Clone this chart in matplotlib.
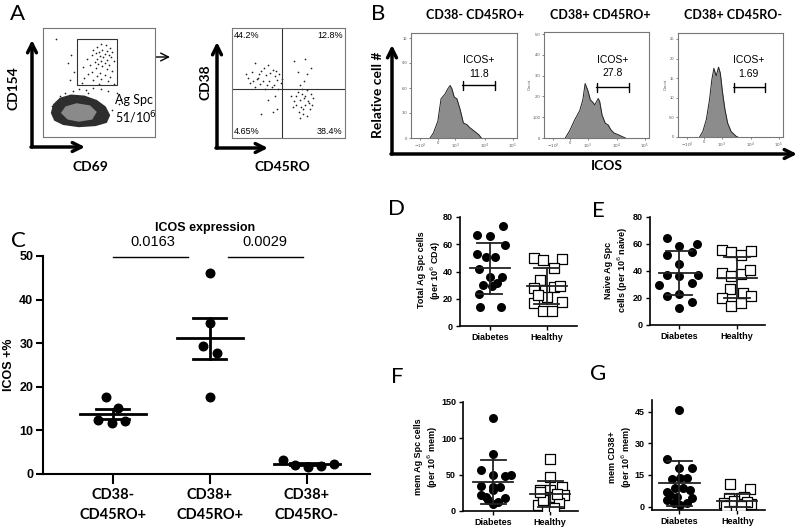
#import libraries
import matplotlib
matplotlib.use("Agg")
import matplotlib.pyplot as plt
import numpy as np
from matplotlib.patches import Polygon, Rectangle

plt.rcParams["font.family"] = ["Liberation Sans", "DejaVu Sans"]

#GLOBAL sizes (pixels of the 800x529 picture)
W, H = 800, 529

#--- panel A: CD69 vs CD154 dot plot (0-100 display units)
a_dots_x = [52, 56, 48, 60, 45, 53, 57, 50, 62, 47, 55, 59, 44, 51, 54, 61, 39, 48, 57, 52, 63, 46,
            55, 49, 59, 42, 53, 36, 47, 57, 62, 44, 51, 40, 55, 48, 60, 37, 52, 45, 58, 35, 63, 50,
            12, 25, 22, 28, 24, 32, 20, 27, 38, 45, 15, 30, 52, 58, 66, 70, 40, 8, 62, 68, 72]
a_dots_y = [85, 84, 83, 82, 80, 80, 79, 78, 78, 77, 76, 75, 75, 74, 73, 73, 72, 72, 71, 70, 70, 69,
            68, 67, 66, 66, 65, 64, 63, 62, 61, 60, 59, 58, 57, 56, 55, 54, 53, 52, 51, 50, 49, 49,
            90, 75, 68, 60, 52, 44, 40, 42, 43, 45, 38, 38, 44, 42, 40, 35, 40, 28, 25, 30, 20]
a_blob_x = [7, 9, 15, 25, 37, 48, 56, 60, 57, 47, 32, 18, 10]
a_blob_y = [22, 30, 36, 39, 38, 34, 28, 20, 13, 10, 9, 11, 15]
a_core_x = [16, 20, 30, 42, 48, 44, 32, 22]
a_core_y = [22, 28, 31, 29, 23, 16, 14, 16]
a_gate = [30, 48, 66, 90]

#--- panel A (right): CD45RO vs CD38 of the gated cells
q_dots_x = [20, 28, 32, 36, 18, 24, 30, 38, 42, 14, 22, 27, 33, 40, 16, 25, 31, 37, 43, 20, 29, 35,
            41, 23, 34, 12, 26, 39, 44, 19, 32, 38, 26, 36, 40,
            55, 65, 70, 66, 58, 64, 60,
            52, 58, 62, 66, 70, 55, 60, 64, 68, 72, 57, 61, 65, 69, 59, 63, 66, 60, 54, 71, 62, 57, 65, 67, 63]
q_dots_y = [68, 64, 66, 62, 60, 58, 57, 56, 58, 55, 54, 52, 52, 53, 50, 49, 48, 48, 50, 46, 45, 46,
            45, 55, 59, 58, 61, 61, 54, 52, 35, 38, 22, 24, 26,
            70, 72, 64, 58, 60, 52, 48,
            38, 42, 40, 44, 40, 34, 35, 36, 32, 36, 30, 28, 30, 26, 24, 22, 20, 18, 28, 30, 45, 38, 38, 34, 26]
q_split = [44, 45]
q_pct = ["44.2%", "12.8%", "4.65%", "38.4%"]

#--- panel B: ICOS histograms (x in decades of the biexponential axis)
b_titles = ["CD38- CD45RO+", "CD38+ CD45RO+", "CD38+ CD45RO-"]
b_icos = ["11.8", "27.8", "1.69"]
h1_u = [2.15, 2.26, 2.41, 2.52, 2.66, 2.75, 2.83, 2.89, 2.97, 3.06, 3.17, 3.28, 3.40, 3.51, 3.66, 3.80, 3.89]
h1_n = [0, 0.6, 2.0, 4.7, 5.3, 5.9, 6.3, 5.9, 4.9, 4.7, 3.4, 1.8, 1.6, 1.2, 0.8, 0.4, 0]
h2_u = [2.23, 2.38, 2.55, 2.72, 2.83, 2.91, 3.0, 3.09, 3.18, 3.24, 3.36, 3.41, 3.49, 3.60, 3.70, 3.79,
        3.90, 4.04, 4.21, 4.29]
h2_n = [0, 0.35, 0.87, 1.3, 1.83, 2.62, 2.3, 1.83, 1.71, 1.59, 1.9, 1.75, 1.11, 0.71, 0.63, 0.4,
        0.24, 0.16, 0.05, 0]
h3_u = [2.24, 2.35, 2.47, 2.58, 2.66, 2.73, 2.81, 2.89, 2.95, 3.03, 3.11, 3.2, 3.32, 3.49, 3.55]
h3_n = [0, 1.4, 4.4, 9.5, 14.6, 17.5, 15.6, 17.8, 16.3, 11.2, 7.0, 3.6, 1.4, 0.2, 0]
h_gates = [(3.25, 4.36, 6.3), (3.30, 4.40, 2.43), (3.41, 4.49, 12.6)]
h_ymax = [12.6, 5.1, 26.5]
h_yticks = [[0, 3, 6, 9, 12], [0, 1, 2, 3, 4, 5], [0, 5, 10, 15, 20, 25]]
h_ylabels = [["0", "3.0", "6.0", "9.0", "12"], ["0", "1.00", "2.0", "3.0", "4.0", "5.0"],
             ["0", "5.0", "10", "15", "20", "25"]]
icos_ticks = [1.8, 2.4, 3.0, 4.0, 4.95]
icos_labels = ["$-10^3$", "0", "$10^3$", "$10^4$", "$10^5$"]

#--- panel C: ICOS+ % per subset
c_cats = ["CD38-\nCD45RO+", "CD38+\nCD45RO+", "CD38+\nCD45RO-"]
c_vals = [[17.7, 15.2, 12.4, 11.8, 12.2],
          [46.0, 34.7, 29.3, 27.8, 17.7],
          [3.2, 2.1, 1.7, 1.8, 2.4]]
c_jit = [[-0.07, 0.05, -0.15, -0.01, 0.13],
         [0, 0, -0.07, 0.07, 0],
         [-0.25, -0.12, 0.01, 0.15, 0.28]]
c_pvals = ["0.0163", "0.0029"]

#--- panels D-G: Diabetes vs Healthy
groups = ["Diabetes", "Healthy"]
d_dia = [73.2, 66.6, 65.9, 59.3, 52.7, 50.7, 50.7, 41.5, 36.1, 36.1, 31.7, 30, 29.3, 23.4, 14.1, 14.1]
d_dia_j = [0.23, -0.22, 0, 0.26, -0.23, -0.07, 0.09, -0.19, 0, 0.22, 0.12, -0.12, 0.03, -0.2, -0.18, 0.2]
d_hea = [50.2, 48.3, 49.5, 42.9, 33.7, 27.6, 26.3, 28.3, 29.3, 21.5, 17.1, 17.8, 11, 11.2, 22.7]
d_hea_j = [-0.23, -0.07, 0.26, 0.12, -0.12, -0.22, -0.03, 0.12, 0.23, 0, -0.23, 0.26, -0.07, 0.09, -0.15]
e_dia = [64, 58.6, 59.8, 51.4, 54.2, 44.8, 36.9, 36.2, 36.9, 29.5, 31.3, 21.7, 22.9, 17.2, 12.3]
e_dia_j = [-0.21, 0, 0.31, -0.21, 0.22, 0, -0.21, 0, 0.33, -0.34, 0.22, -0.21, 0, 0.22, 0]
e_hea = [55.4, 53.9, 51.7, 54.6, 38.2, 36.2, 37.7, 40.6, 26.3, 20.2, 14, 16, 23.4, 21.7]
e_hea_j = [-0.26, -0.1, 0.07, 0.24, -0.26, -0.1, 0.07, 0.23, -0.13, -0.26, -0.1, 0.07, 0.1, 0.24]
f_dia = [127.3, 77.7, 55.9, 49.1, 47.7, 49.1, 34.5, 33.2, 33.2, 28.6, 21.8, 19.5, 17.3, 15, 9.1, 12]
f_dia_j = [0, 0, -0.21, 0, 0.21, 0.32, -0.21, 0, 0.12, 0, -0.21, -0.12, 0.21, -0.09, 0, 0.09]
f_hea = [71.8, 46.8, 28.6, 28.6, 33.2, 19.5, 19.5, 21.8, 8.2, 5.9, 10.5, 1.4, 3.6, 15, 24, 26]
f_hea_j = [0, 0, -0.18, 0, 0.21, -0.12, 0.09, 0.24, -0.21, 0, 0.15, -0.06, 0.06, -0.12, 0.12, -0.18]
g_dia = [45.8, 22.4, 18.2, 18.5, 12.9, 13.4, 13.4, 7.1, 8.7, 8.7, 3.2, 1.6, 0.8, 1.6, 3.9, 5.5, 7.9, 4.7]
g_dia_j = [0, -0.22, 0, 0.22, -0.13, 0.01, 0.13, -0.22, -0.08, 0.07, -0.22, -0.1, 0.01, 0.13, 0.22,
           -0.16, 0.19, -0.05]
g_hea = [10.7, 8.2, 3.9, 3.9, 4.7, 1.6, 0.8, 0.8, 1.1, 1.3, 0.3, 0.3, 2.5, 2.2, 0.5]
g_hea_j = [-0.13, 0.22, -0.15, 0.06, 0.12, -0.23, -0.12, 0, 0.12, 0.23, -0.2, -0.03, -0.06, 0.17, 0.06]
pvals = ["0.0612", "0.5274", "0.0826", "0.0043"]


#helper: axes from a pixel box
def px_axes(fig, l, t, r, b):
    return fig.add_axes([l / W, 1 - b / H, (r - l) / W, (b - t) / H])


def flow_frame(ax):
    for s in ax.spines.values():
        s.set_color("#777777")
        s.set_linewidth(0.8)


fig = plt.figure(figsize=(W / 100, H / 100), dpi=100)

#overlay for letters, arrows and free text
ov = fig.add_axes([0, 0, 1, 1])
ov.set_xlim(0, W)
ov.set_ylim(H, 0)
ov.axis("off")
ov.patch.set_alpha(0)

#panel A left
ax = px_axes(fig, 43, 28, 155, 137)
ax.set_xlim(0, 100)
ax.set_ylim(0, 100)
ax.add_patch(Polygon(np.column_stack([a_blob_x, a_blob_y]), closed=True, color="#2e2e2e", lw=0))
ax.add_patch(Polygon(np.column_stack([a_core_x, a_core_y]), closed=True, color="#8a8a8a", lw=0))
ax.scatter(a_dots_x, a_dots_y, s=1.5, c="#222222", lw=0)
ax.add_patch(Rectangle((a_gate[0], a_gate[1]), a_gate[2] - a_gate[0], a_gate[3] - a_gate[1],
                       fill=False, ec="#333333", lw=0.8))
ax.text(81, 34, "Ag Spc", fontsize=9, family="Lato", ha="center", va="center")
ax.text(83, 18, "51/10$^6$", fontsize=9, family="Lato", ha="center", va="center")
ax.set_xticks([])
ax.set_yticks([])
flow_frame(ax)

#panel A right
ax = px_axes(fig, 232, 28, 345, 138)
ax.set_xlim(0, 100)
ax.set_ylim(0, 100)
ax.scatter(q_dots_x, q_dots_y, s=1.5, c="#222222", lw=0)
ax.axvline(q_split[0], color="#333333", lw=0.8)
ax.axhline(q_split[1], color="#333333", lw=0.8)
ax.text(2, 97, q_pct[0], fontsize=6.5, va="top")
ax.text(98, 97, q_pct[1], fontsize=6.5, va="top", ha="right")
ax.text(2, 2, q_pct[2], fontsize=6.5, va="bottom")
ax.text(98, 2, q_pct[3], fontsize=6.5, va="bottom", ha="right")
ax.set_xticks([])
ax.set_yticks([])
flow_frame(ax)

#panel B histograms
boxes = [(411, 33, 517, 138), (544, 32, 649, 138), (678, 33, 783, 137)]
hists = [(h1_u, h1_n), (h2_u, h2_n), (h3_u, h3_n)]
txt_x = [0.64, 0.65, 0.67]
for i in range(3):
    ax = px_axes(fig, *boxes[i])
    u, n = hists[i]
    ax.fill_between(u, n, color="#8c8c8c", lw=0)
    ax.plot(u, n, color="#222222", lw=0.7)
    ax.set_xlim(1.5, 5.1)
    ax.set_ylim(0, h_ymax[i])
    a, b, v = h_gates[i]
    ax.annotate("", xy=(b, v), xytext=(a, v),
                arrowprops=dict(arrowstyle="|-|", lw=1, mutation_scale=3, shrinkA=0, shrinkB=0))
    ax.text(txt_x[i], 0.74, "ICOS+", transform=ax.transAxes, fontsize=7.5, ha="center", va="center")
    ax.text(txt_x[i], 0.61, b_icos[i], transform=ax.transAxes, fontsize=7.5, ha="center", va="center")
    ax.set_xticks(icos_ticks)
    ax.set_xticklabels(icos_labels)
    ax.set_yticks(h_yticks[i])
    ax.set_yticklabels(h_ylabels[i])
    ax.tick_params(labelsize=3, length=1.5, width=0.5, pad=1, colors="#555555")
    if i > 0:
        ax.set_ylabel("Count", fontsize=3, labelpad=1, color="#555555")
    flow_frame(ax)

#panel C
ax = px_axes(fig, 43, 256, 370, 474)
for i in range(3):
    v = np.array(c_vals[i])
    ax.scatter(i + np.array(c_jit[i]), v, s=38, c="black", zorder=3)
    m = v.mean()
    sem = v.std(ddof=1) / np.sqrt(len(v))
    ax.plot([i - 0.34, i + 0.34], [m, m], color="black", lw=2, zorder=4)
    ax.plot([i, i], [m - sem, m + sem], color="black", lw=2, zorder=4)
    ax.plot([i - 0.17, i + 0.17], [m + sem] * 2, color="black", lw=2, zorder=4)
    ax.plot([i - 0.17, i + 0.17], [m - sem] * 2, color="black", lw=2, zorder=4)
ax.plot([0, 0.77], [49.8, 49.8], color="black", lw=1, clip_on=False)
ax.plot([1.19, 1.96], [49.8, 49.8], color="black", lw=1, clip_on=False)
ax.text(0.41, 51.5, c_pvals[0], fontsize=10.5, ha="center", va="bottom")
ax.text(1.57, 51.5, c_pvals[1], fontsize=10.5, ha="center", va="bottom")
ax.set_xlim(-0.72, 2.65)
ax.set_ylim(0, 50)
ax.set_yticks(range(0, 51, 10))
ax.set_xticks(range(3))
ax.set_xticklabels(c_cats, family="Lato", fontweight="bold", fontsize=10.5, linespacing=1.6)
for t in ax.get_yticklabels():
    t.set_fontweight("bold")
    t.set_fontsize(9)
ax.tick_params(axis="y", length=5, width=1.5, pad=2)
ax.tick_params(axis="x", length=7, width=1.5, pad=3)
ax.spines["top"].set_visible(False)
ax.spines["right"].set_visible(False)
ax.spines["left"].set_linewidth(1.5)
ax.spines["bottom"].set_linewidth(1.5)


#panels D-G
def dot_panel(box, xlim, ylim, yticks, dia, dia_j, hea, hea_j, pval, pxy):
    ax = px_axes(fig, *box)
    ax.scatter(np.array(dia_j), dia, s=42, c="black", zorder=3, lw=0)
    ax.scatter(1 + np.array(hea_j), hea, s=50, marker="s", facecolors="white",
               edgecolors="black", lw=0.9, zorder=3)
    for i, v in enumerate([dia, hea]):
        v = np.array(v)
        m = v.mean()
        sd = v.std(ddof=1)
        ax.plot([i - 0.35, i + 0.35], [m, m], color="#222222", lw=1.3, zorder=4)
        ax.plot([i, i], [m - sd, m + sd], color="#222222", lw=1.3, zorder=4)
        ax.plot([i - 0.22, i + 0.22], [m + sd] * 2, color="#222222", lw=1.3, zorder=4)
        ax.plot([i - 0.22, i + 0.22], [m - sd] * 2, color="#222222", lw=1.3, zorder=4)
    ax.set_xlim(*xlim)
    ax.set_ylim(*ylim)
    ax.set_yticks(yticks)
    ax.set_xticks([0, 1])
    ax.set_xticklabels(groups)
    for t in ax.get_yticklabels() + ax.get_xticklabels():
        t.set_fontweight("bold")
        t.set_fontsize(6.5)
    ax.tick_params(length=3, width=1, pad=2)
    ax.spines["top"].set_visible(False)
    ax.spines["right"].set_visible(False)
    ax.spines["left"].set_linewidth(1.2)
    ax.spines["bottom"].set_linewidth(1.2)
    ov.text(pxy[0], pxy[1], pval, fontsize=7.5, ha="center", va="center")
    return ax


dot_panel((460, 217, 577, 326), (-0.526, 1.53), (0, 80), [0, 20, 40, 60, 80],
          d_dia, d_dia_j, d_hea, d_hea_j, pvals[0], (543, 225))
dot_panel((650, 216.7, 765, 325), (-0.5, 1.48), (0, 80), [0, 20, 40, 60, 80],
          e_dia, e_dia_j, e_hea, e_hea_j, pvals[1], (707, 223))
dot_panel((463, 401.7, 578, 511), (-0.53, 1.49), (0, 150), [0, 50, 100, 150],
          f_dia, f_dia_j, f_hea, f_hea_j, pvals[2], (540, 413))
dot_panel((651.7, 400, 765, 510), (-0.48, 1.48), (-1.6, 50.5), [0, 15, 30, 45],
          g_dia, g_dia_j, g_hea, g_hea_j, pvals[3], (718, 405))

#panel letters
for lab, x, y in [("A", 18, 14), ("B", 378, 14), ("C", 18, 241), ("D", 397, 209),
                  ("E", 598, 211), ("F", 397, 377), ("G", 598, 374)]:
    ov.text(x, y, lab, fontsize=16, family="Lato", ha="center", va="center")

#axis arrows
arw = dict(arrowstyle="->", lw=2.5, mutation_scale=16, shrinkA=0, shrinkB=0, color="black")
for (x0, y0, x1, y1) in [(32, 147, 32, 40), (31, 147, 85, 147), (217, 148, 217, 42),
                         (216, 148, 268, 148), (392, 154, 392, 45), (391, 154, 797, 154)]:
    ov.annotate("", xy=(x1, y1), xytext=(x0, y0), arrowprops=arw)
ov.annotate("", xy=(170, 57), xytext=(117, 57),
            arrowprops=dict(arrowstyle="->", lw=1, mutation_scale=14, shrinkA=0, shrinkB=0))

#axis titles
bold = dict(family="Lato", fontweight="bold", ha="center", va="center")
ov.text(14, 88, "CD154", rotation=90, fontsize=10, **bold)
ov.text(90, 167, "CD69", fontsize=10, **bold)
ov.text(205, 82, "CD38", rotation=90, fontsize=10, **bold)
ov.text(282, 167, "CD45RO", fontsize=10, **bold)
ov.text(378, 95, "Relative cell #", rotation=90, fontsize=10, **bold)
ov.text(607, 166, "ICOS", fontsize=10, **bold)
for t, x in zip(b_titles, [475, 600, 733]):
    ov.text(x, 15, t, fontsize=9, **bold)
ov.text(205, 228, "ICOS expression", fontsize=9, fontweight="bold", ha="center", va="center")
ov.text(9, 365, "ICOS +%", rotation=90, fontsize=9, fontweight="bold", ha="center", va="center")
small = dict(rotation=90, fontsize=6.5, fontweight="bold", ha="center", va="center", multialignment="center")
ov.text(430, 270, "Total Ag Spc cells\n(per 10$^6$ CD4)", **small)
ov.text(617, 270, "Naive Ag Spc\ncells (per 10$^6$ naive)", **small)
ov.text(427, 457, "mem Ag Spc cells\n(per 10$^6$ mem)", **small)
ov.text(621, 457, "mem CD38+\n(per 10$^6$ mem)", **small)

fig.savefig("out.png", dpi=100)
